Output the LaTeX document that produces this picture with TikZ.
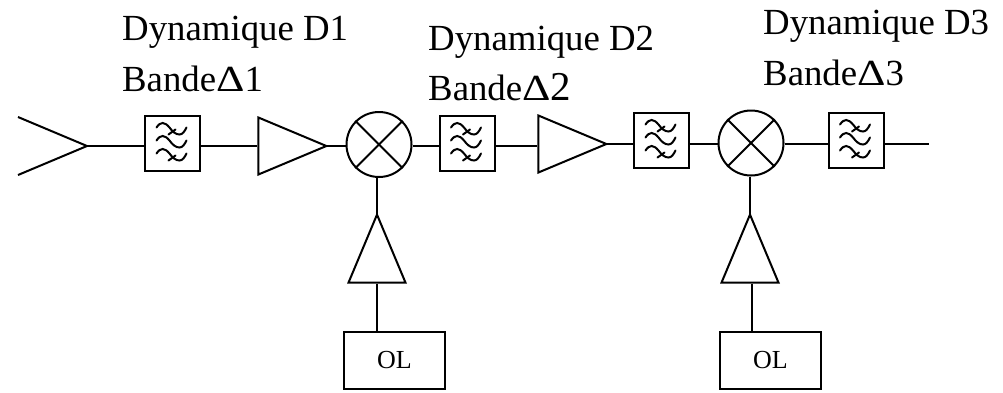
\documentclass[tikz,border=0pt]{standalone}
\usepackage{fontspec}
\usepackage{graphicx}
\setmainfont{Liberation Serif}
\usetikzlibrary{shapes.geometric,calc}

\tikzset{
    filter node/.style={rectangle, draw, minimum width=55pt, minimum height=55pt, inner sep=0pt, line width=2pt},
    mixer node/.style={circle, draw, minimum size=65pt, inner sep=0pt, line width=2pt},
    amp node/.style={isosceles triangle, draw, isosceles triangle stretches, inner sep=0pt, line width=2pt, minimum width=57pt, minimum height=68pt, anchor=apex},
    ol node/.style={rectangle, draw, minimum width=101pt, minimum height=57pt, inner sep=0pt, line width=1.9pt, font=\fontsize{26}{28}\selectfont},
    title node/.style={anchor=base west, inner sep=0pt, font=\fontsize{36.8}{40}\selectfont},
    wire/.style={line width=1.8pt}
}
\newcommand{\widedelta}{\scalebox{1.2}[1]{Δ}}
\newcommand{\filtersymbol}[1]{
    \foreach \dy/\cross in {-13/1, 0/0, 13/1}{
        \draw[line width=2pt, line cap=round, shift={($(#1)+(0,\dy)$)}]
            (-16,-3) .. controls (-12,-9) and (-8,-9) .. (-3,-3) .. controls (0,1) and (3,4) .. (7,4) .. controls (10,4) and (12,1) .. (14,-3);
        \ifnum\cross=1
            \draw[line width=2pt, line cap=round, shift={($(#1)+(0,\dy)$)}] (-4,4) -- (3,-1);
        \fi
    }
}

\begin{document}
\begin{tikzpicture}[x=1pt,y=-1pt]
    \useasboundingbox (0,0) rectangle (1003,392);

    \node[title node] (t1) at (122,40) {Dynamique D1};
    \node[title node] (b1) at (122,91) {Bande\widedelta 1};
    \node[title node] (t2) at (428,50) {Dynamique D2};
    \node[title node] (b2) at (428,100) {Bande\widedelta{\fontsize{41}{44}\selectfont 2}};
    \node[title node] (t3) at (763,34) {Dynamique D3};
    \node[title node] (b3) at (763,85) {Bande\widedelta 3};

    \coordinate (ant1) at (18,117);
    \coordinate (ant2) at (87,146);
    \coordinate (ant3) at (18,175);
    \coordinate (end) at (929,144);

    \node[filter node] (f1) at (172.5,143.5) {};
    \node[amp node] (a1) at (329,146) {};
    \node[mixer node] (m1) at (379,144.5) {};
    \node[filter node] (f2) at (467,143.5) {};
    \node[amp node] (a2) at (609,144) {};
    \node[filter node] (f3) at (661.5,140.5) {};
    \node[mixer node] (m2) at (751,143) {};
    \node[filter node] (f4) at (856,140.5) {};

    \node[amp node, shape border rotate=90] (a3) at (377,212) {};
    \node[amp node, shape border rotate=90] (a4) at (750,212) {};
    \node[ol node] (o1) at (394.5,360.5) {OL};
    \node[ol node] (o2) at (770.5,360.5) {OL};

    \draw[line width=2pt] (ant1) -- (ant2) -- (ant3);
    \filtersymbol{f1}
    \filtersymbol{f2}
    \filtersymbol{f3}
    \filtersymbol{f4}

    \foreach \m in {m1,m2}{
        \draw[line width=1.8pt] (\m.north west) -- (\m.south east);
        \draw[line width=1.8pt] (\m.north east) -- (\m.south west);
    }

    \path[wire]
        (ant2) edge (ant2 -| f1.west)
        (ant2 -| f1.east) edge (ant2 -| a1.lower side)
        (a1.apex) edge[shorten <=-3pt] (a1.apex -| m1.west)
        (ant2 -| m1.east) edge (ant2 -| f2.west)
        (ant2 -| f2.east) edge (ant2 -| a2.lower side)
        (a2.apex) edge[shorten <=-3pt] (a2.apex -| f3.west)
        (end -| f3.east) edge (end -| m2.west)
        (end -| m2.east) edge (end -| f4.west)
        (end -| f4.east) edge (end)
        (m1.south -| a3.apex) edge[shorten >=-3pt] (a3.apex)
        (a3.lower side) edge (a3.lower side |- o1.north)
        (m2.south -| a4.apex) edge[shorten >=-3pt] (a4.apex)
        ($(a4.lower side)+(2,0)$) edge ($(a4.lower side |- o2.north)+(2,0)$)
        ;
\end{tikzpicture}
\end{document}
